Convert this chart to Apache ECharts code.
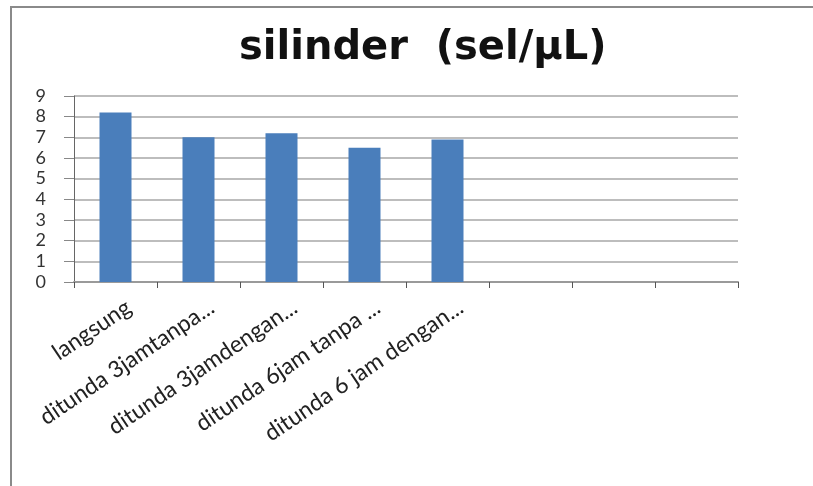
<!DOCTYPE html>
<html>
<head>
<meta charset="utf-8">
<script src="https://cdn.jsdelivr.net/npm/echarts@6/dist/echarts.min.js"></script>
<style>
  html, body { margin: 0; padding: 0; background: #fff; }
  #frame { position: absolute; left: 10px; top: 6px; width: 803px; height: 480px;
           border-top: 2px solid #8a8a8a; border-left: 2px solid #8a8a8a; box-sizing: border-box; }
  #chart { position: absolute; left: 0; top: 0; width: 813px; height: 486px; }
</style>
</head>
<body>
<div id="frame"></div>
<div id="chart"></div>
<script>
  // ── Data ──────────────────────────────────────────────────────────────
  const categories = [
    'langsung',
    'ditunda 3jamtanpa...',
    'ditunda 3jamdengan...',
    'ditunda 6jam tanpa ...',
    'ditunda 6 jam dengan...',
    '', '', ''
  ];
  const values = [8.2, 7.0, 7.2, 6.5, 6.9, null, null, null];
  const yTicks = { min: 0, max: 9, interval: 1 };

  const chart = echarts.init(document.getElementById('chart'));
  chart.setOption({
    animation: false,
    title: {
      text: 'silinder  (sel/µL)',
      left: 234,
      top: 24,
      textStyle: { fontFamily: 'DejaVu Sans', fontWeight: 'bold', fontSize: 40, color: '#111' }
    },
    grid: { left: 74, right: 75, top: 96, bottom: 204, containLabel: false },
    xAxis: {
      type: 'category',
      data: categories,
      axisLine: { lineStyle: { color: '#9a9a9a', width: 2 } },
      axisTick: { show: true, length: 6, lineStyle: { color: '#555' } },
      axisLabel: {
        rotate: 34, interval: 0, margin: 32,
        fontFamily: 'Lato', fontSize: 23, color: '#222',
        padding: [0, -16, 0, 0]
      }
    },
    yAxis: {
      type: 'value',
      min: yTicks.min, max: yTicks.max, interval: yTicks.interval,
      axisLine: { show: true, lineStyle: { color: '#666', width: 1 } },
      axisTick: { show: true, length: 10, lineStyle: { color: '#888' } },
      axisLabel: { fontFamily: 'Lato', fontSize: 18, color: '#333', margin: 28 },
      splitLine: { lineStyle: { color: '#bdbdbd', width: 2 } }
    },
    series: [{
      type: 'bar',
      data: values,
      barWidth: 32,
      itemStyle: { color: '#4a7ebb' }
    }]
  });
</script>
</body>
</html>
